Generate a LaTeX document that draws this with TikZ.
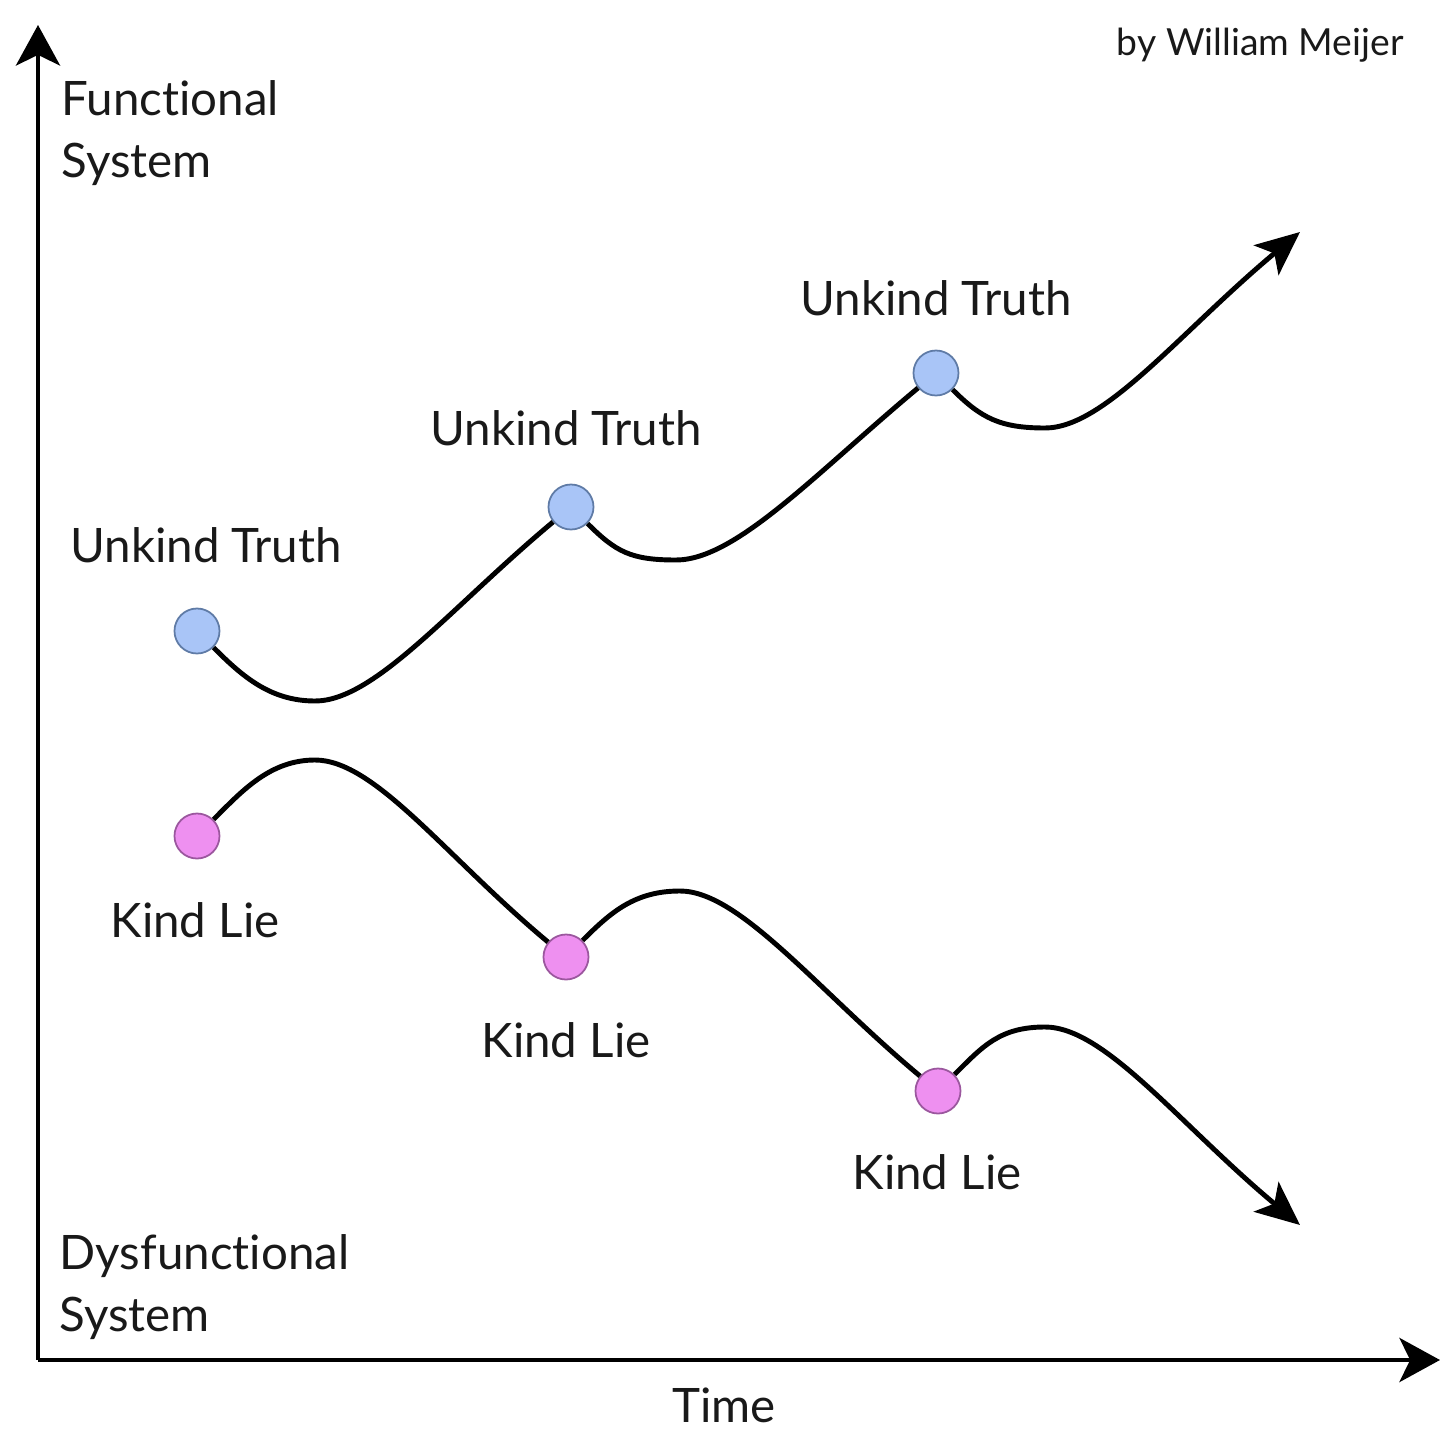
\documentclass[tikz,border=0pt]{standalone}
\usepackage{fontspec}
\setmainfont{Lato}[Ligatures={NoCommon,NoRare,NoDiscretionary}]
\usetikzlibrary{arrows.meta}

\definecolor{truthblue}{HTML}{A9C5F7}
\definecolor{truthedge}{HTML}{5F7BA6}
\definecolor{liepink}{HTML}{EE90F0}
\definecolor{lieedge}{HTML}{9B579E}

\begin{document}
\begin{tikzpicture}[x=0.01cm, y=-0.01cm,
        every node/.style={font=\fontsize{13.5}{17.6}\selectfont, text=black!90},
        axis/.style={line width=1.4pt, -{Stealth[length=11.5pt,width=12.5pt,inset=3pt]}},
        path/.style={line width=1.4pt, -{Stealth[length=12.5pt,width=11pt,inset=3pt]}},
        dot/.style={circle, inner sep=0pt, minimum size=0.45cm, line width=0.5pt},
        truth/.style={dot, fill=truthblue, draw=truthedge},
        lie/.style={dot, fill=liepink, draw=lieedge}]

    \useasboundingbox (0,0) rectangle (1456,1442);

    \coordinate (origin) at (38,1360);
    \coordinate (ytip) at (38,25);
    \coordinate (xtip) at (1440,1360);
    \draw[axis] (origin) -- (ytip);
    \draw[axis] (origin) -- (xtip);

    \node[anchor=north west, inner sep=0pt, align=left] (functional) at (61,80) {Functional\\System};
    \node[anchor=north west, inner sep=0pt, align=left] (dysfunctional) at (59,1234) {Dysfunctional\\System};
    \node (time) at (724,1405) {Time};
    \node[anchor=base east, font=\fontsize{10.6}{13}\selectfont] (author) at (1416,55) {by William Meijer};

    \node[truth] (u1) at (197,631) {};
    \node[truth] (u2) at (571,507) {};
    \node[truth] (u3) at (936,373) {};
    \node[lie] (k1) at (197,836) {};
    \node[lie] (k2) at (566,957) {};
    \node[lie] (k3) at (938,1091) {};

    \node (u1label) at (206,545) {Unkind Truth};
    \node (u2label) at (566,428) {Unkind Truth};
    \node (u3label) at (936,298) {Unkind Truth};
    \node (k1label) at (195,920) {Kind Lie};
    \node (k2label) at (566,1040) {Kind Lie};
    \node (k3label) at (937,1172) {Kind Lie};

    \coordinate (d1) at (315,701);
    \coordinate (d2) at (676,560);
    \coordinate (d3) at (1045,428);
    \coordinate (up) at (1300,232);
    \coordinate (p1) at (315,760);
    \coordinate (p2) at (680,891);
    \coordinate (p3) at (1045,1027);
    \coordinate (down) at (1300,1225);

    \draw[path] (u1) .. controls +(45,45) and +(-45,0) .. (d1)
        .. controls +(60,0) and +(-120,100) .. (u2)
        .. controls +(45,45) and +(-45,0) .. (d2)
        .. controls +(60,0) and +(-120,100) .. (u3)
        .. controls +(45,45) and +(-45,0) .. (d3)
        .. controls +(60,0) and +(-120,100) .. (up);

    \draw[path] (k1) .. controls +(45,-45) and +(-45,0) .. (p1)
        .. controls +(60,0) and +(-120,-100) .. (k2)
        .. controls +(45,-45) and +(-45,0) .. (p2)
        .. controls +(60,0) and +(-120,-100) .. (k3)
        .. controls +(45,-45) and +(-45,0) .. (p3)
        .. controls +(60,0) and +(-120,-100) .. (down);
\end{tikzpicture}
\end{document}
